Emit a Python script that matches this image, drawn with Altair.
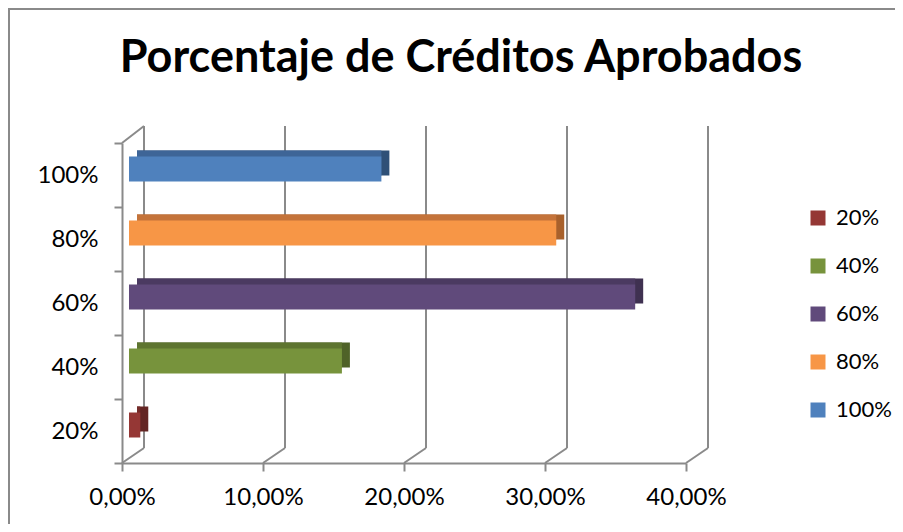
import altair as alt
import pandas as pd

# ---- data ----
categorias = ["20%", "40%", "60%", "80%", "100%"]
valores = [0.008, 0.151, 0.359, 0.303, 0.179]
orden_y = ["100%", "80%", "60%", "40%", "20%"]
colores = ["#953735", "#77933C", "#604A7B", "#F79646", "#4F81BD"]
colores_sup = ["#742B29", "#5E7530", "#4B3A61", "#C4733A", "#3E6597"]
colores_lado = ["#632523", "#4F6228", "#3F3151", "#A8612C", "#2F5077"]
ticks_x = [0.0, 0.1, 0.2, 0.3, 0.4]

df = pd.DataFrame({
    "cat": categorias,
    "valor": valores,
    "cero": [0.0] * len(categorias),
    "sup": colores_sup,
    "lado": colores_lado,
})
df_ticks = pd.DataFrame({"t": ticks_x})
df_esq = pd.DataFrame({"t": ticks_x[:1]})

FONT = "Lato"
GRIS = "#8a8a8a"
W, H = 564, 320

xscale = alt.Scale(domain=[0, 0.4], nice=False, zero=False)

xaxis = alt.Axis(
    values=ticks_x, grid=False, title=None, labelFlush=False, labelOverlap=False,
    labelExpr="replace(format(datum.value*100, '.2f'), '.', ',') + '%'",
    labelFont=FONT, labelFontSize=24, labelColor="#000000", labelPadding=14,
    tickSize=8, tickColor=GRIS, tickWidth=2, domainColor=GRIS, domainWidth=2,
)
yaxis = alt.Axis(
    title=None, labelFont=FONT, labelFontSize=24, labelColor="#000000",
    labelPadding=16, tickSize=8, tickColor=GRIS, tickWidth=2, tickBand="extent",
    domainColor=GRIS, domainWidth=2, grid=False,
)

base = alt.Chart(df).encode(
    y=alt.Y("cat:N", sort=orden_y, axis=yaxis, scale=alt.Scale(paddingInner=0, paddingOuter=0)),
    x=alt.X("cero:Q", scale=xscale, axis=xaxis),
    x2="valor:Q",
)

lado = base.mark_bar(size=25, xOffset=15, x2Offset=15, yOffset=-12).encode(
    color=alt.Color("lado:N", scale=None)
)
sup = base.mark_bar(size=25, xOffset=15, x2Offset=7, yOffset=-12).encode(
    color=alt.Color("sup:N", scale=None)
)
frente = base.mark_bar(size=25, xOffset=7, x2Offset=7, yOffset=-6).encode(
    color=alt.Color(
        "cat:N",
        scale=alt.Scale(domain=categorias, range=colores),
        legend=alt.Legend(
            title=None, orient="none", legendX=685, legendY=64, padding=0,
            symbolType="square", symbolSize=225, symbolStrokeWidth=0,
            labelFont=FONT, labelFontSize=22, labelColor="#000000",
            labelOffset=7, rowPadding=26,
        ),
    )
)

# back-wall gridlines
grid_back = alt.Chart(df_ticks).mark_rule(color=GRIS, strokeWidth=2, xOffset=22).encode(
    x=alt.X("t:Q", scale=xscale), y=alt.value(-17), y2=alt.value(H - 15)
)
# floor diagonals
grid_diag = alt.Chart(df_ticks).mark_rule(color=GRIS, strokeWidth=2, x2Offset=22).encode(
    x=alt.X("t:Q", scale=xscale), x2="t:Q", y=alt.value(H), y2=alt.value(H - 15)
)
# left wall top diagonal
esq = alt.Chart(df_esq).mark_rule(color=GRIS, strokeWidth=2, x2Offset=22).encode(
    x=alt.X("t:Q", scale=xscale), x2="t:Q", y=alt.value(0), y2=alt.value(-17)
)
# outer chart border
borde_izq = alt.Chart(df_esq).mark_rule(color=GRIS, strokeWidth=2).encode(
    x=alt.value(-113), y=alt.value(-135), y2=alt.value(H + 61)
)
borde_sup = alt.Chart(df_esq).mark_rule(color=GRIS, strokeWidth=2).encode(
    x=alt.value(-114), x2=alt.value(W + 209), y=alt.value(-134)
)

chart = alt.layer(
    borde_izq, borde_sup, grid_back, grid_diag, esq, lado, sup, frente
).properties(
    width=W, height=H,
    title=alt.TitleParams(
        "Porcentaje de Créditos Aprobados", font=FONT, fontSize=45,
        fontWeight="bold", color="#000000", anchor="middle", frame="group",
        dx=57, offset=-110, baseline="alphabetic",
    ),
    autosize=alt.AutoSizeParams(type="none"),
    padding={"left": 114, "top": 135, "right": 209, "bottom": 61},
).configure(background="white").configure_view(stroke=None)

chart.save("out.html", embed_options={"renderer": "svg", "actions": False})
